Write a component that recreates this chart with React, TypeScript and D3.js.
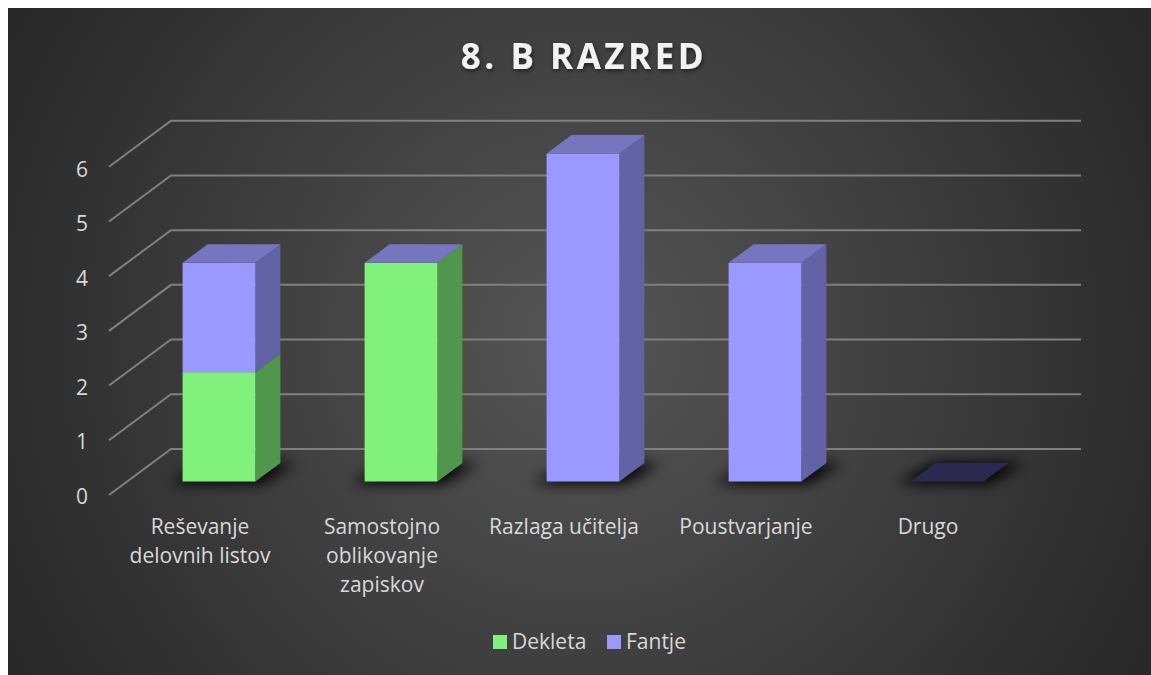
import { useEffect } from "react";
import * as d3 from "d3";

const categories = [
  ["Reševanje", "delovnih listov"],
  ["Samostojno", "oblikovanje", "zapiskov"],
  ["Razlaga učitelja"],
  ["Poustvarjanje"],
  ["Drugo"],
];
const dekleta = [2, 4, 0, 0, 0];
const fantje = [2, 0, 6, 4, 0];
const ticks = [0, 1, 2, 3, 4, 5, 6];
const seriesNames = ["Dekleta", "Fantje"];

const FONT = "'Open Sans', sans-serif";
const frontColors = ["#80f17b", "#9999ff"];
const sideColors = ["#50964c", "#6262a4"];
const topColor = "#7676c0";

// 3d offset of the bars (depth of the column)
const depth = { x: 25, y: -18.5 };

export default function App() {
  useEffect(() => {
    // chart runs to the right and bottom edge of the page
    document.body.style.margin = "8px 0 0 8px";
  }, []);

  const x = d3
    .scaleBand<number>()
    .domain(d3.range(categories.length))
    .range([128, 1038])
    .paddingInner(0.6)
    .paddingOuter(0.3);
  const y = d3.scaleLinear().domain([0, 6]).range([481.5, 153.5]);
  // wall lines run further back than the bars
  const yBack = d3.scaleLinear().domain([0, 7]).range([449, 66]);
  const yWall = d3.scaleLinear().domain([0, 7]).range([495, 112]);
  const yTick = d3.scaleLinear().domain([0, 6]).range([503.5, 177]);

  const stacked = d3
    .stack<number>()
    .keys([0, 1] as any)
    .value((i, k: any) => (k === 0 ? dekleta[i] : fantje[i]))(
    d3.range(categories.length)
  );

  const poly = (pts: number[][]) => d3.line()(pts as [number, number][]) + "Z";

  return (
    <svg
      width={1143}
      height={667}
      viewBox="8 8 1143 667"
      style={{ display: "block" }}
      fontFamily={FONT}
    >
      <defs>
        <radialGradient
          id="bg"
          gradientUnits="userSpaceOnUse"
          cx={579}
          cy={342}
          r={640}
        >
          <stop offset="0" stopColor="#565656" />
          <stop offset="1" stopColor="#282828" />
        </radialGradient>
        <filter id="blur" x="-50%" y="-150%" width="200%" height="400%">
          <feGaussianBlur stdDeviation="7" />
        </filter>
        <filter id="titleShadow" x="-10%" y="-30%" width="120%" height="170%">
          <feDropShadow dx="1" dy="2" stdDeviation="2" floodColor="#000" floodOpacity="0.55" />
        </filter>
      </defs>
      <rect x={8} y={8} width={1143} height={667} fill="url(#bg)" />

      <text
        x={584}
        y={68.5}
        textAnchor="middle"
        fontSize={35}
        fontWeight={700}
        letterSpacing={3.5}
        fill="#f2f2f2"
        filter="url(#titleShadow)"
      >
        8. B RAZRED
      </text>

      {/* grid lines on side wall and back wall */}
      <g stroke="#808080" strokeWidth={2} fill="none">
        {ticks.map((t) => (
          <path key={t} d={`M109,${yWall(t)}L171,${yBack(t)}H1081`} />
        ))}
      </g>

      {/* floor shadows */}
      <g>
        {categories.map((_, i) => {
          const x0 = x(i)!;
          const x1 = x0 + x.bandwidth();
          const b = y(0);
          return (
            <path
              key={i}
              d={poly([
                [x0 - 14, b + 2],
                [x1 + 6, b + 2],
                [x1 + depth.x + 16, b + depth.y],
                [x0 + depth.x, b + depth.y],
              ])}
              fill="#000000"
              filter="url(#blur)"
            />
          );
        })}
      </g>

      {/* bars */}
      {categories.map((_, i) => {
        const x0 = x(i)!;
        const x1 = x0 + x.bandwidth();
        const total = dekleta[i] + fantje[i];
        if (total === 0) {
          return (
            <path
              key={i}
              d={poly([
                [x0, y(0)],
                [x1, y(0)],
                [x1 + depth.x, y(0) + depth.y],
                [x0 + depth.x, y(0) + depth.y],
              ])}
              fill="#2a2a50"
            />
          );
        }
        return (
          <g key={i}>
            {stacked.map((s, k) => {
              const [v0, v1] = s[i];
              if (v1 === v0) return null;
              return (
                <g key={k}>
                  <path
                    d={poly([
                      [x1, y(v0)],
                      [x1 + depth.x, y(v0) + depth.y],
                      [x1 + depth.x, y(v1) + depth.y],
                      [x1, y(v1)],
                    ])}
                    fill={sideColors[k]}
                  />
                  <rect
                    x={x0}
                    y={y(v1)}
                    width={x1 - x0}
                    height={y(v0) - y(v1)}
                    fill={frontColors[k]}
                  />
                </g>
              );
            })}
            {/* the empty Fantje segment still caps the stack, so the top is always purple */}
            <path
              d={poly([
                [x0, y(total)],
                [x1, y(total)],
                [x1 + depth.x, y(total) + depth.y],
                [x0 + depth.x, y(total) + depth.y],
              ])}
              fill={topColor}
            />
          </g>
        );
      })}

      {/* value axis */}
      <g fontSize={21} fill="#d9d9d9" textAnchor="end">
        {ticks.map((t) => (
          <text key={t} x={88} y={yTick(t)}>
            {t}
          </text>
        ))}
      </g>

      {/* category labels */}
      <g fontSize={21} fill="#d9d9d9" textAnchor="middle">
        {categories.map((lines, i) => (
          <text key={i}>
            {lines.map((l, j) => (
              <tspan key={j} x={x(i)! + x.bandwidth() / 2 - 19} y={533.5 + j * 29}>
                {l}
              </tspan>
            ))}
          </text>
        ))}
      </g>

      {/* legend */}
      <g fontSize={21} fill="#d9d9d9">
        {seriesNames.map((n, i) => {
          const lx = i === 0 ? 493 : 607;
          return (
            <g key={n}>
              <rect x={lx} y={635} width={14} height={14} fill={frontColors[i]} />
              <text x={lx + 19} y={648.5}>
                {n}
              </text>
            </g>
          );
        })}
      </g>
    </svg>
  );
}
